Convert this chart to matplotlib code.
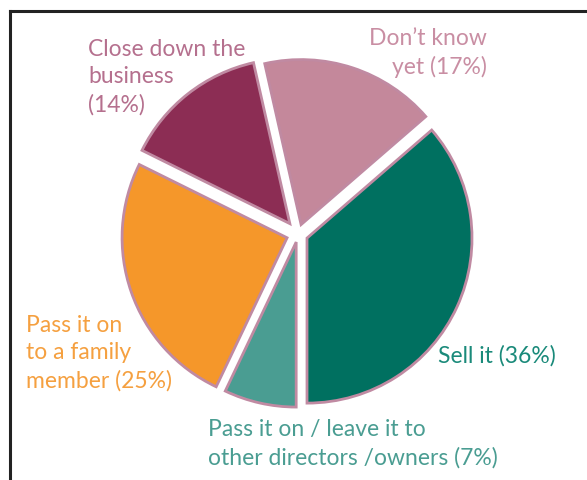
import matplotlib
matplotlib.use("Agg")
import matplotlib.pyplot as plt
from matplotlib.lines import Line2D

# Plans for the business
labels = ["Sell it (36%)", "Don\u2019t know\nyet (17%)", "Close down the\nbusiness\n(14%)",
          "Pass it on\nto a family\nmember (25%)",
          "Pass it on / leave it to\nother directors /owners (7%)"]
shares = [36, 17, 14, 25, 7]
colors = ["#007060", "#c4889b", "#8c2d54", "#f5972a", "#4a9d92"]
text_colors = ["#1a8a7a", "#c98ea3", "#b5708e", "#f5a040", "#4a9d92"]

plt.rcParams['font.family'] = ['Lato', 'DejaVu Sans']

W, H = 587, 481
fig = plt.figure(figsize=(W / 100, H / 100), dpi=100)

# pie axes: 1 data unit = 165 px, centre at (298, 235) from top-left
r = 165
cx, cy = 298, H - 235
ax = fig.add_axes([(cx - 1.5 * r) / W, (cy - 1.5 * r) / H, 3 * r / W, 3 * r / H])
ax.pie(shares, colors=colors, startangle=-90, counterclock=True,
       explode=[0.06, 0.06, 0.08, 0.07, 0.05],
       wedgeprops=dict(edgecolor="#c08aa2", linewidth=2))
ax.set_xlim(-1.5, 1.5)
ax.set_ylim(-1.5, 1.5)
ax.set_aspect("equal")
ax.axis("off")

# text labels, positions in pixels from top-left
pos = [(438, 345, "left"), (487, 28, "right"), (88, 39, "left"),
       (26, 315, "left"), (208, 419, "left")]
for lab, c, (x, y, ha) in zip(labels, text_colors, pos):
    fig.text(x / W, 1 - y / H, lab, color=c, fontsize=16.5,
             ha=ha, va="top", linespacing=1.38, multialignment=ha)

# frame lines at top and left
fig.add_artist(Line2D([10 / W, 10 / W], [0, 1 - 12 / H], color="#222222", lw=2.2))
fig.add_artist(Line2D([10 / W, 1], [1 - 12 / H, 1 - 12 / H], color="#222222", lw=2.2))

fig.savefig("out.png", dpi=100)
